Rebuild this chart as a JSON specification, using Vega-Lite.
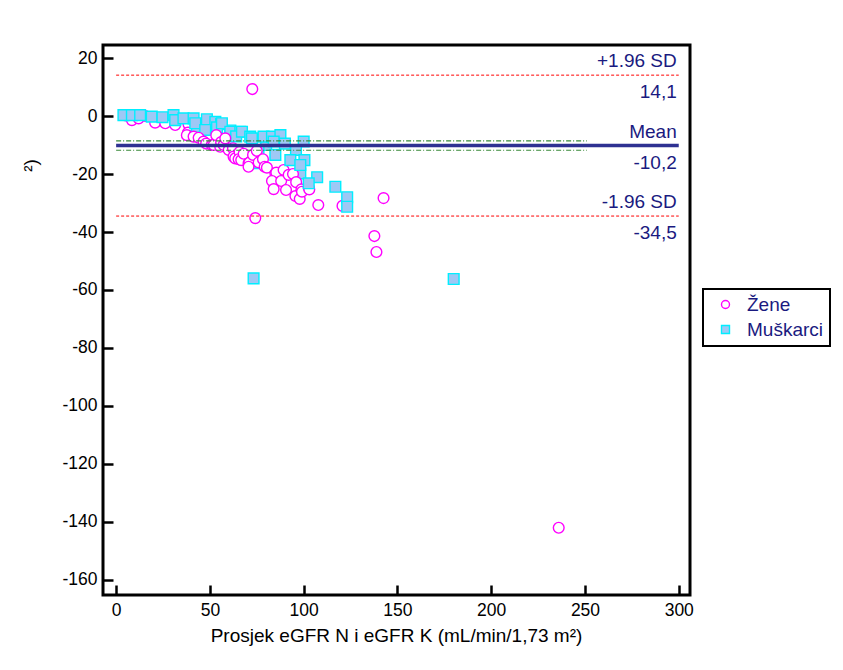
{
  "$schema": "https://vega.github.io/schema/vega-lite/v6.json",
  "width": 587,
  "height": 550,
  "autosize": "none",
  "padding": {"left": 103, "top": 45, "right": 153, "bottom": 75},
  "background": "white",
  "config": {
    "view": {"stroke": "black", "strokeWidth": 3},
    "font": "Liberation Sans",
    "axis": {
      "domain": false,
      "grid": false,
      "tickColor": "black",
      "tickWidth": 2.5,
      "labelColor": "black",
      "labelFont": "Liberation Sans",
      "labelFontSize": 17.5,
      "titleFont": "Liberation Sans",
      "titleFontSize": 19,
      "titleFontWeight": "normal",
      "titleColor": "black"
    },
    "legend": {
      "orient": "none",
      "legendX": 600,
      "legendY": 244,
      "strokeColor": "black",
      "strokeWidth": 2,
      "fillColor": "white",
      "padding": 6,
      "symbolOffset": 7,
      "labelOffset": 12,
      "labelFont": "Liberation Sans",
      "labelFontSize": 19,
      "labelColor": "#1a1a80",
      "symbolSize": 64,
      "symbolStrokeWidth": 1.4,
      "rowPadding": 5,
      "titlePadding": 0
    }
  },
  "datasets": {
    "pts": [
      {"spol": "Žene", "x": 5, "y": 0.2},
      {"spol": "Žene", "x": 8.4, "y": -1.4},
      {"spol": "Žene", "x": 12, "y": -0.8},
      {"spol": "Žene", "x": 20.8, "y": -2.3},
      {"spol": "Žene", "x": 26.2, "y": -2.5},
      {"spol": "Žene", "x": 31.5, "y": -3.1},
      {"spol": "Žene", "x": 38.6, "y": -2.8},
      {"spol": "Žene", "x": 38.3, "y": -5.7},
      {"spol": "Žene", "x": 37.7, "y": -6.6},
      {"spol": "Žene", "x": 42.2, "y": -6.0},
      {"spol": "Žene", "x": 15.5, "y": 0.0},
      {"spol": "Muškarci", "x": 3.9, "y": 0.3},
      {"spol": "Muškarci", "x": 8.4, "y": 0.3},
      {"spol": "Muškarci", "x": 12.8, "y": 0.3},
      {"spol": "Muškarci", "x": 19, "y": -0.2},
      {"spol": "Muškarci", "x": 24.7, "y": -0.4},
      {"spol": "Muškarci", "x": 30.6, "y": 0.3},
      {"spol": "Muškarci", "x": 31.5, "y": -1.4},
      {"spol": "Muškarci", "x": 35.9, "y": -0.8},
      {"spol": "Muškarci", "x": 41.3, "y": -0.8},
      {"spol": "Muškarci", "x": 43.1, "y": -3.7},
      {"spol": "Muškarci", "x": 42.2, "y": -2.5},
      {"spol": "Muškarci", "x": 48.4, "y": -1.1},
      {"spol": "Muškarci", "x": 52.9, "y": -2.0},
      {"spol": "Muškarci", "x": 56, "y": -2.8},
      {"spol": "Muškarci", "x": 47.5, "y": -4.8},
      {"spol": "Muškarci", "x": 53.8, "y": -3.9},
      {"spol": "Muškarci", "x": 60.9, "y": -5.0},
      {"spol": "Muškarci", "x": 56.4, "y": -2.5},
      {"spol": "Muškarci", "x": 60.9, "y": -5.4},
      {"spol": "Muškarci", "x": 66.2, "y": -5.4},
      {"spol": "Muškarci", "x": 64, "y": -7.0},
      {"spol": "Muškarci", "x": 75.9, "y": -16.3},
      {"spol": "Muškarci", "x": 75.1, "y": -15.7},
      {"spol": "Muškarci", "x": 98.2, "y": -19.8},
      {"spol": "Muškarci", "x": 80, "y": -10.0},
      {"spol": "Muškarci", "x": 75.9, "y": -12.0},
      {"spol": "Žene", "x": 41.3, "y": -7.1},
      {"spol": "Žene", "x": 44, "y": -7.5},
      {"spol": "Žene", "x": 46.6, "y": -8.8},
      {"spol": "Žene", "x": 48, "y": -9.5},
      {"spol": "Žene", "x": 51, "y": -10.0},
      {"spol": "Žene", "x": 52, "y": -10.0},
      {"spol": "Žene", "x": 53.4, "y": -6.6},
      {"spol": "Žene", "x": 55.5, "y": -10.6},
      {"spol": "Žene", "x": 56, "y": -9.0},
      {"spol": "Žene", "x": 57.3, "y": -10.0},
      {"spol": "Žene", "x": 58.2, "y": -7.7},
      {"spol": "Žene", "x": 60, "y": -11.7},
      {"spol": "Žene", "x": 62.3, "y": -11.1},
      {"spol": "Žene", "x": 62.6, "y": -14.0},
      {"spol": "Žene", "x": 63.5, "y": -14.6},
      {"spol": "Žene", "x": 65.8, "y": -12.4},
      {"spol": "Žene", "x": 65.3, "y": -14.9},
      {"spol": "Žene", "x": 66.7, "y": -15.2},
      {"spol": "Žene", "x": 68, "y": -13.0},
      {"spol": "Žene", "x": 70.6, "y": -16.3},
      {"spol": "Žene", "x": 71, "y": -16.1},
      {"spol": "Žene", "x": 70.6, "y": -17.5},
      {"spol": "Žene", "x": 73, "y": -13.4},
      {"spol": "Žene", "x": 75, "y": -12.0},
      {"spol": "Žene", "x": 76, "y": -16.0},
      {"spol": "Žene", "x": 78.3, "y": -14.9},
      {"spol": "Žene", "x": 79.2, "y": -17.5},
      {"spol": "Žene", "x": 80.4, "y": -17.8},
      {"spol": "Žene", "x": 84.9, "y": -19.8},
      {"spol": "Žene", "x": 85.4, "y": -19.5},
      {"spol": "Žene", "x": 83.1, "y": -22.4},
      {"spol": "Žene", "x": 84, "y": -25.2},
      {"spol": "Žene", "x": 88, "y": -22.4},
      {"spol": "Žene", "x": 89.3, "y": -18.6},
      {"spol": "Žene", "x": 92, "y": -20.3},
      {"spol": "Žene", "x": 94.3, "y": -20.0},
      {"spol": "Žene", "x": 90.6, "y": -25.5},
      {"spol": "Žene", "x": 96, "y": -22.8},
      {"spol": "Žene", "x": 95.6, "y": -27.6},
      {"spol": "Žene", "x": 97.9, "y": -28.6},
      {"spol": "Žene", "x": 98.8, "y": -25.3},
      {"spol": "Žene", "x": 99.1, "y": -26.1},
      {"spol": "Žene", "x": 102.7, "y": -24.7},
      {"spol": "Žene", "x": 103, "y": -25.3},
      {"spol": "Žene", "x": 107.8, "y": -30.7},
      {"spol": "Žene", "x": 120.7, "y": -31.0},
      {"spol": "Žene", "x": 142.6, "y": -28.3},
      {"spol": "Žene", "x": 137.7, "y": -41.4},
      {"spol": "Žene", "x": 138.8, "y": -46.9},
      {"spol": "Žene", "x": 74.2, "y": -35.2},
      {"spol": "Žene", "x": 72.6, "y": 9.3},
      {"spol": "Žene", "x": 236, "y": -142.0},
      {"spol": "Muškarci", "x": 67.1, "y": -5.4},
      {"spol": "Muškarci", "x": 71.5, "y": -7.1},
      {"spol": "Muškarci", "x": 72.4, "y": -7.7},
      {"spol": "Muškarci", "x": 78.6, "y": -7.1},
      {"spol": "Muškarci", "x": 83.1, "y": -7.1},
      {"spol": "Muškarci", "x": 87.6, "y": -6.6},
      {"spol": "Muškarci", "x": 84, "y": -8.8},
      {"spol": "Muškarci", "x": 90, "y": -9.5},
      {"spol": "Muškarci", "x": 100, "y": -8.8},
      {"spol": "Muškarci", "x": 95.9, "y": -11.7},
      {"spol": "Muškarci", "x": 84.9, "y": -13.4},
      {"spol": "Muškarci", "x": 92.9, "y": -15.2},
      {"spol": "Muškarci", "x": 100.4, "y": -15.2},
      {"spol": "Muškarci", "x": 98.2, "y": -16.9},
      {"spol": "Muškarci", "x": 107.2, "y": -21.1},
      {"spol": "Muškarci", "x": 102.7, "y": -23.2},
      {"spol": "Muškarci", "x": 116.9, "y": -24.4},
      {"spol": "Muškarci", "x": 123.2, "y": -28.0},
      {"spol": "Muškarci", "x": 123.2, "y": -31.3},
      {"spol": "Muškarci", "x": 73.3, "y": -56.0},
      {"spol": "Muškarci", "x": 180, "y": -56.2}
    ],
    "lines": [
      {"kind": "sd", "y": 14.1, "x1": 0, "x2": 300},
      {"kind": "sd", "y": -34.5, "x1": 0, "x2": 300},
      {"kind": "ci", "y": -8.6, "x1": 0, "x2": 251},
      {"kind": "ci", "y": -11.8, "x1": 0, "x2": 251},
      {"kind": "mean", "y": -10.2, "x1": 0, "x2": 300}
    ],
    "labels": [
      {"y": 14.1, "lx": 300, "t": "+1.96 SD", "p": "a"},
      {"y": 14.1, "lx": 300, "t": "14,1", "p": "b"},
      {"y": -10.2, "lx": 300, "t": "Mean", "p": "a"},
      {"y": -10.2, "lx": 300, "t": "-10,2", "p": "b"},
      {"y": -34.5, "lx": 300, "t": "-1.96 SD", "p": "a"},
      {"y": -34.5, "lx": 300, "t": "-34,5", "p": "b"}
    ]
  },
  "layer": [
    {
      "data": {"name": "pts"},
      "mark": {"type": "point", "size": 115, "strokeWidth": 1.4, "opacity": 1, "fillOpacity": 1},
      "encoding": {
        "x": {
          "field": "x",
          "type": "quantitative",
          "scale": {"domain": [-7, 306], "nice": false, "zero": false},
          "axis": {
            "values": [0, 50, 100, 150, 200, 250, 300],
            "tickSize": -10,
            "labelPadding": 16,
            "title": "Prosjek eGFR N i eGFR K (mL/min/1,73 m²)",
            "titleX": 293,
            "titleY": 31,
            "titleBaseline": "top"
          }
        },
        "y": {
          "field": "y",
          "type": "quantitative",
          "scale": {"domain": [-165.2, 24.5], "nice": false, "zero": false},
          "axis": {
            "values": [-160, -150, -140, -130, -120, -110, -100, -90, -80, -70, -60, -50, -40, -30, -20, -10, 0, 10, 20],
            "labelExpr": "datum.value % 20 === 0 ? '' + datum.value : ''",
            "tickSize": {"condition": {"test": "datum.value % 20 === 0", "value": -10}, "value": -5},
            "labelPadding": 16,
            "title": "²)",
            "titleX": -63,
            "titleY": 120,
            "titleAngle": -90
          }
        },
        "shape": {
          "field": "spol", "type": "nominal",
          "scale": {"domain": ["Žene", "Muškarci"], "range": ["circle", "square"]},
          "legend": {"title": null}
        },
        "stroke": {
          "field": "spol", "type": "nominal",
          "scale": {"domain": ["Žene", "Muškarci"], "range": ["#ff00ff", "#00eeff"]},
          "legend": {"title": null}
        },
        "fill": {
          "field": "spol", "type": "nominal",
          "scale": {"domain": ["Žene", "Muškarci"], "range": ["#ffffff", "#9ec8f5"]},
          "legend": {"title": null}
        }
      }
    },
    {
      "data": {"name": "lines"},
      "transform": [{"filter": "datum.kind === 'sd'"}],
      "mark": {"type": "rule", "color": "#ff0000", "strokeWidth": 1, "strokeDash": [3, 2]},
      "encoding": {"x": {"field": "x1", "type": "quantitative"}, "x2": {"field": "x2"}, "y": {"field": "y", "type": "quantitative"}}
    },
    {
      "data": {"name": "lines"},
      "transform": [{"filter": "datum.kind === 'ci'"}],
      "mark": {"type": "rule", "color": "#3a8a3a", "strokeWidth": 1.2, "strokeDash": [5, 2, 1, 2]},
      "encoding": {"x": {"field": "x1", "type": "quantitative"}, "x2": {"field": "x2"}, "y": {"field": "y", "type": "quantitative"}}
    },
    {
      "data": {"name": "lines"},
      "transform": [{"filter": "datum.kind === 'mean'"}],
      "mark": {"type": "rule", "color": "#2e3192", "strokeWidth": 3.5},
      "encoding": {"x": {"field": "x1", "type": "quantitative"}, "x2": {"field": "x2"}, "y": {"field": "y", "type": "quantitative"}}
    },
    {
      "data": {"name": "labels"},
      "transform": [{"filter": "datum.p === 'a'"}],
      "mark": {"type": "text", "align": "right", "baseline": "alphabetic", "dx": -2, "dy": -8, "fontSize": 19, "fill": "#1a1a80", "font": "Liberation Sans"},
      "encoding": {"x": {"field": "lx", "type": "quantitative"}, "y": {"field": "y", "type": "quantitative"}, "text": {"field": "t", "type": "nominal"}}
    },
    {
      "data": {"name": "labels"},
      "transform": [{"filter": "datum.p === 'b'"}],
      "mark": {"type": "text", "align": "right", "baseline": "top", "dx": -2, "dy": 8, "fontSize": 19, "fill": "#1a1a80", "font": "Liberation Sans"},
      "encoding": {"x": {"field": "lx", "type": "quantitative"}, "y": {"field": "y", "type": "quantitative"}, "text": {"field": "t", "type": "nominal"}}
    }
  ]
}
